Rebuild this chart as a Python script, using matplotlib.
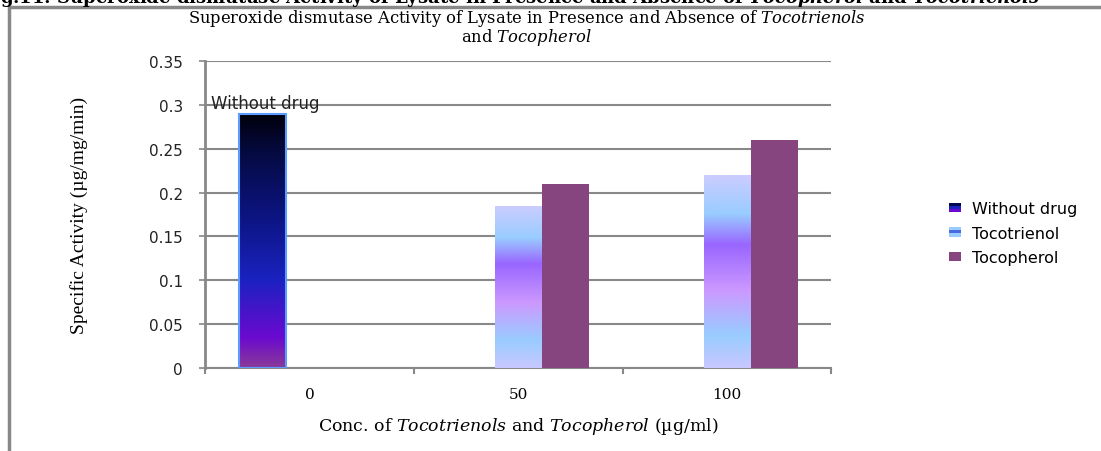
import numpy as np
import matplotlib
matplotlib.use("Agg")
import matplotlib.pyplot as plt
from matplotlib.patches import Rectangle
from matplotlib.colors import LinearSegmentedColormap
from matplotlib.legend_handler import HandlerBase

plt.rcParams["mathtext.fontset"] = "custom"
plt.rcParams["mathtext.rm"] = "DejaVu Serif"
plt.rcParams["mathtext.it"] = "DejaVu Serif:italic"
plt.rcParams["mathtext.bf"] = "DejaVu Serif:bold:italic"

# ---- data ----
categories = ["0", "50", "100"]
series_names = ["Without drug", "Tocotrienol", "Tocopherol"]
without_drug = [0.29, np.nan, np.nan]
tocotrienol = [np.nan, 0.185, 0.22]
tocopherol = [np.nan, 0.21, 0.26]
y_ticks = [0, 0.05, 0.1, 0.15, 0.2, 0.25, 0.3, 0.35]
y_tick_labels = ["0", "0.05", "0.1", "0.15", "0.2", "0.25", "0.3", "0.35"]

# ---- colour fills ----
dark_cmap = LinearSegmentedColormap.from_list(
    "dark", [(0.0, "#8a3a98"), (0.12, "#6a0ad0"), (0.35, "#1a22c0"),
             (0.6, "#0c1480"), (0.85, "#050a40"), (1.0, "#00000a")])
water_cmap = LinearSegmentedColormap.from_list(
    "water", [(0.0, "#c8c8ff"), (0.17, "#99ccff"), (0.4, "#cc99ff"),
              (0.64, "#9966ff"), (0.8, "#99ccff"), (1.0, "#ccccff")])
plum = "#87457f"

fig = plt.figure(figsize=(11.01, 4.52), dpi=100)
ax = fig.add_axes([0.1862, 0.1836, 0.569, 0.6792])

n = len(categories)
x = np.arange(n)
w = 0.225
ax.set_xlim(-0.5, n - 0.5)
ax.set_ylim(0, 0.35)


def gradient_bar(xc, h, cmap, edge=None):
    if np.isnan(h):
        return
    left = xc - w / 2
    grad = np.linspace(0, 1, 256).reshape(-1, 1)
    im = ax.imshow(grad, cmap=cmap, origin="lower", aspect="auto",
                   extent=[left, left + w, 0, h], zorder=3,
                   interpolation="bilinear")
    rect = Rectangle((left, 0), w, h, facecolor="none",
                     edgecolor=edge if edge else "none", lw=1.5, zorder=4)
    ax.add_patch(rect)
    im.set_clip_path(rect)


for i in range(n):
    gradient_bar(x[i] - w, without_drug[i], dark_cmap, edge="#5c9cff")
    gradient_bar(x[i], tocotrienol[i], water_cmap)
ax.bar(x + w, tocopherol, width=w, color=plum, zorder=3)

# data label on the first series
ax.text(x[0] - w * 0.95, without_drug[0] + 0.0125, "Without drug",
        ha="center", va="center", fontsize=12, family="DejaVu Sans",
        color="#222222", zorder=5)

# ---- axes styling ----
ax.set_yticks(y_ticks)
ax.set_yticklabels(y_tick_labels, family="DejaVu Sans", fontsize=11,
                   color="#222222")
ax.yaxis.grid(True, color="#888888", lw=1.5, zorder=0)
ax.set_axisbelow(True)
ax.set_xticks(np.arange(-0.5, n, 1.0))
ax.set_xticklabels([])
ax.set_xticks(x, minor=True)
ax.set_xticklabels(categories, minor=True, family="DejaVu Serif",
                   fontsize=11)
ax.tick_params(axis="x", which="minor", length=0, pad=14)
ax.tick_params(axis="x", which="major", length=4, width=1.5,
               color="#888888", direction="out")
ax.tick_params(axis="y", length=4, width=1.2, color="#888888",
               direction="out", pad=12)
for s in ["top", "right"]:
    ax.spines[s].set_visible(False)
ax.spines["left"].set_color("#888888")
ax.spines["left"].set_linewidth(2)
ax.spines["bottom"].set_color("#888888")
ax.spines["bottom"].set_linewidth(1.5)

ax.set_ylabel("Specific Activity (µg/mg/min)", family="Liberation Serif",
              fontsize=14, labelpad=44)
ax.set_xlabel(r"Conc. of $\it{Tocotrienols}$ and $\it{Tocopherol}$ (µg/ml)",
              family="DejaVu Serif", fontsize=12.5, labelpad=10)

fig.text(0.478, 0.96, r"Superoxide dismutase Activity of Lysate in Presence "
         r"and Absence of $\it{Tocotrienols}$", ha="center", va="center",
         family="DejaVu Serif", fontsize=11.8)
fig.text(0.478, 0.918, r"and $\it{Tocopherol}$", ha="center", va="center",
         family="DejaVu Serif", fontsize=11.8)

# header caption cut by the frame
fig.text(0.0, 1.004, r"g.11: Superoxide dismutase Activity of Lysate in Presence "
         r"and Absence of $\bf{Tocopherol}$ and $\bf{Tocotrienols}$",
         ha="left", va="center", family="DejaVu Serif",
         fontweight="bold", fontsize=13)

# frame around the chart
frame = Rectangle((0.0085, -0.02), 1.1, 1.0 - 0.018 + 0.02,
                  transform=fig.transFigure, fill=False,
                  edgecolor="#888888", lw=2.5, clip_on=False)
fig.add_artist(frame)


# ---- legend ----
class StripeHandler(HandlerBase):
    def __init__(self, colors):
        super().__init__()
        self.colors = colors

    def create_artists(self, legend, orig_handle, xdescent, ydescent,
                       width, height, fontsize, trans):
        k = len(self.colors)
        hgt = height / k
        arts = []
        for j, c in enumerate(self.colors):
            r = Rectangle((-xdescent, -ydescent + (k - 1 - j) * hgt), width,
                          hgt, facecolor=c, edgecolor="none", transform=trans)
            arts.append(r)
        return arts


h1, h2, h3 = Rectangle((0, 0), 1, 1), Rectangle((0, 0), 1, 1), \
    Rectangle((0, 0), 1, 1)
leg = fig.legend([h1, h2, h3], series_names,
                 handler_map={h1: StripeHandler(["#050a50", "#1a22c0", "#6a0ad0"]),
                              h2: StripeHandler(["#99ccff", "#4a6adf", "#99ccff"]),
                              h3: StripeHandler([plum])},
                 loc="center left", bbox_to_anchor=(0.849, 0.482),
                 frameon=False, prop={"family": "DejaVu Sans", "size": 11.5},
                 handlelength=0.75, handleheight=0.5, handletextpad=0.7,
                 labelspacing=0.6)

fig.savefig("out.png", dpi=100)
